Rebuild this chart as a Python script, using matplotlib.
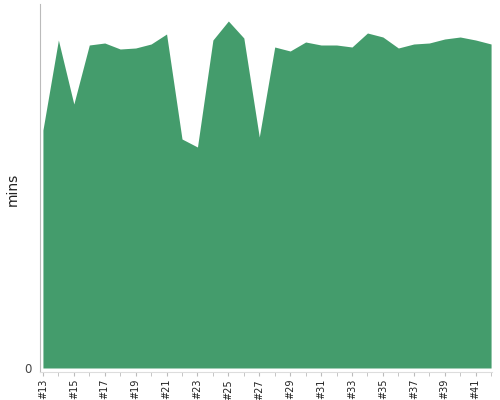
import matplotlib
matplotlib.use("Agg")
import matplotlib.pyplot as plt
import numpy as np

builds = ["#%d" % n for n in range(13, 43)]
mins = [23.8, 32.8, 26.4, 32.3, 32.5, 31.9, 32.0, 32.4, 33.4, 22.9,
        22.1, 32.8, 34.7, 33.0, 23.1, 32.1, 31.7, 32.6, 32.3, 32.3,
        32.1, 33.5, 33.1, 32.0, 32.4, 32.5, 32.9, 33.1, 32.8, 32.4]

fig = plt.figure(figsize=(5, 4), dpi=100)
ax = fig.add_axes([0.08, 0.07, 0.904, 0.92])

x = np.arange(len(builds))
ax.fill_between(x, 0, mins, color="#449c6c", linewidth=0)

ax.set_xlim(-0.19, 29.06)
ax.set_ylim(-0.4, 36.4)

ax.set_xticks(x, minor=True)
ax.set_xticks(x[::2])
ax.set_xticklabels(builds[::2], rotation=90, fontsize=7, color="#222222")
ax.tick_params(axis="x", which="both", length=3, color="#bbbbbb", pad=2)
ax.set_yticks([0])
ax.set_yticklabels(["0"], fontsize=8.5, color="#444444")
ax.tick_params(axis="y", length=0, pad=6)
ax.set_ylabel("mins", fontsize=10, color="#222222", va="center")
ax.yaxis.set_label_coords(-0.06, 0.495)

for s in ["top", "right"]:
    ax.spines[s].set_visible(False)
ax.spines["left"].set_color("#bbbbbb")
ax.spines["bottom"].set_color("#dddddd")

fig.savefig("out.png", dpi=100)
